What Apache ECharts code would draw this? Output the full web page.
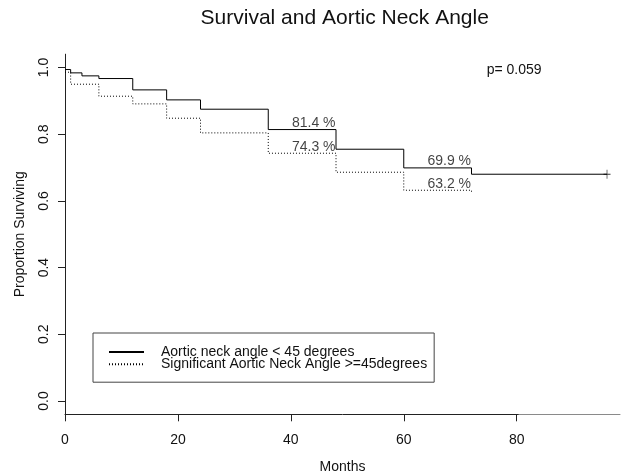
<!DOCTYPE html>
<html>
<head>
<meta charset="utf-8">
<script src="https://cdn.jsdelivr.net/npm/echarts@6/dist/echarts.min.js"></script>
<style>
  html, body { margin: 0; padding: 0; background: #ffffff; }
  #chart { width: 622px; height: 475px; }
</style>
</head>
<body>
<div id="chart"></div>
<script>
// Text
const chartTitle = 'Survival and Aortic Neck Angle';
const xAxisTitle = 'Months';
const yAxisTitle = 'Proportion Surviving';
const pValueText = 'p= 0.059';
const seriesNames = ['Aortic neck angle < 45 degrees', 'Significant Aortic Neck Angle >=45degrees'];

// Kaplan-Meier steps: neck angle < 45 degrees
const monthsLt45 = [0, 1, 3, 6, 12, 18, 24, 36, 48, 60, 72, 96];
const survLt45   = [0.994, 0.984, 0.975, 0.967, 0.933, 0.903, 0.875, 0.814, 0.755, 0.699, 0.680, 0.680];

// Kaplan-Meier steps: neck angle >= 45 degrees
const monthsGe45 = [0, 1, 6, 12, 18, 24, 36, 48, 60, 72];
const survGe45   = [0.986, 0.950, 0.914, 0.891, 0.848, 0.804, 0.743, 0.686, 0.632, 0.623];

// Censored end of follow-up
const censorMonths = [96];
const censorSurv   = [0.680];

// Survival percentages written on the curves
const pctMonths = [48, 48, 72, 72];
const pctSurv   = [0.814, 0.743, 0.699, 0.632];
const pctText   = ['81.4 %', '74.3 %', '69.9 %', '63.2 %'];

// Axis ticks
const xTicks = [0, 20, 40, 60, 80];
const yTicks = [0, 0.2, 0.4, 0.6, 0.8, 1.0];

const FONT = '"Liberation Sans", Arial, Helvetica, sans-serif';
const INK = '#111';

const zip = (xs, ys) => xs.map((x, i) => [x, ys[i]]);

const chart = echarts.init(document.getElementById('chart'), null, { renderer: 'canvas' });

const xMax = 98.3;

chart.setOption({
  animation: false,
  backgroundColor: '#ffffff',
  textStyle: { fontFamily: FONT, color: INK },
  grid: { left: 65, right: 2, top: 54.2, bottom: 60.7, outerBoundsMode: 'none' },
  graphic: [
    { type: 'text', x: 344.7, y: 18.3,
      style: { text: chartTitle, font: '21px ' + FONT, fill: INK, align: 'center', verticalAlign: 'middle' } },
    { type: 'text', x: 486.7, y: 70,
      style: { text: pValueText, font: '14px ' + FONT, fill: INK, align: 'left', verticalAlign: 'middle' } }
  ],
  legend: {
    data: seriesNames,
    orient: 'vertical',
    left: 93,
    top: 333,
    itemWidth: 35,
    itemHeight: 12,
    itemGap: -1.8,
    padding: [12, 7, 11, 15],
    borderColor: '#444',
    borderWidth: 1,
    selectedMode: false,
    itemStyle: { color: 'rgba(0,0,0,0)', borderColor: 'rgba(0,0,0,0)', borderWidth: 0 },
    textStyle: { fontSize: 14, lineHeight: 11.6, color: INK, fontFamily: FONT, padding: [0, 0, 0, 12] }
  },
  xAxis: {
    type: 'value',
    min: 0,
    max: xMax,
    name: xAxisTitle,
    nameLocation: 'middle',
    nameGap: 46,
    nameTextStyle: { fontSize: 14, color: INK, fontFamily: FONT },
    splitLine: { show: false },
    axisLine: {
      onZero: false,
      lineStyle: {
        width: 1,
        color: new echarts.graphic.LinearGradient(0, 0, 1, 0, [
          { offset: 0, color: '#222' },
          { offset: 80 / xMax, color: '#222' },
          { offset: 80 / xMax + 0.001, color: '#8a8a8a' },
          { offset: 1, color: '#8a8a8a' }
        ])
      }
    },
    axisTick: { show: true, inside: false, length: 7, customValues: xTicks, lineStyle: { color: '#222' } },
    axisLabel: { customValues: xTicks, fontSize: 14, color: INK, margin: 19, fontFamily: FONT }
  },
  yAxis: {
    type: 'value',
    min: -0.04,
    max: 1.04,
    name: yAxisTitle,
    nameLocation: 'middle',
    nameGap: 38,
    nameTextStyle: { fontSize: 14, color: INK, fontFamily: FONT },
    splitLine: { show: false },
    axisLine: { show: true, onZero: false, lineStyle: { color: '#222', width: 1 } },
    axisTick: { show: true, inside: false, length: 7, customValues: yTicks, lineStyle: { color: '#222' } },
    axisLabel: {
      customValues: yTicks, rotate: 90, fontSize: 14, color: INK, margin: 14, fontFamily: FONT,
      formatter: v => v.toFixed(1)
    }
  },
  series: [
    {
      name: seriesNames[0],
      type: 'line',
      step: 'end',
      data: zip(monthsLt45, survLt45),
      symbol: 'none',
      showSymbol: false,
      color: '#000',
      lineStyle: { color: '#000', width: 1, type: 'solid' },
      z: 3
    },
    {
      name: seriesNames[1],
      type: 'line',
      step: 'end',
      data: zip(monthsGe45, survGe45),
      symbol: 'none',
      showSymbol: false,
      color: '#000',
      lineStyle: { color: '#000', width: 1, type: [1, 2] },
      z: 3
    },
    {
      name: 'censored',
      type: 'scatter',
      data: zip(censorMonths, censorSurv),
      symbol: 'path://M4.5,0h1v4.5h4.5v1h-4.5v4.5h-1v-4.5h-4.5v-1h4.5z',
      symbolSize: [7, 9],
      itemStyle: { color: '#000' },
      z: 4
    },
    {
      name: 'percent',
      type: 'scatter',
      data: zip(pctMonths, pctSurv),
      symbolSize: 1,
      itemStyle: { color: 'rgba(0,0,0,0)' },
      label: {
        show: true,
        position: [0, 0],
        align: 'right',
        verticalAlign: 'bottom',
        offset: [0, 1],
        fontSize: 14,
        color: INK,
        fontFamily: FONT,
        formatter: p => pctText[p.dataIndex]
      },
      z: 5
    }
  ]
});
</script>
</body>
</html>
